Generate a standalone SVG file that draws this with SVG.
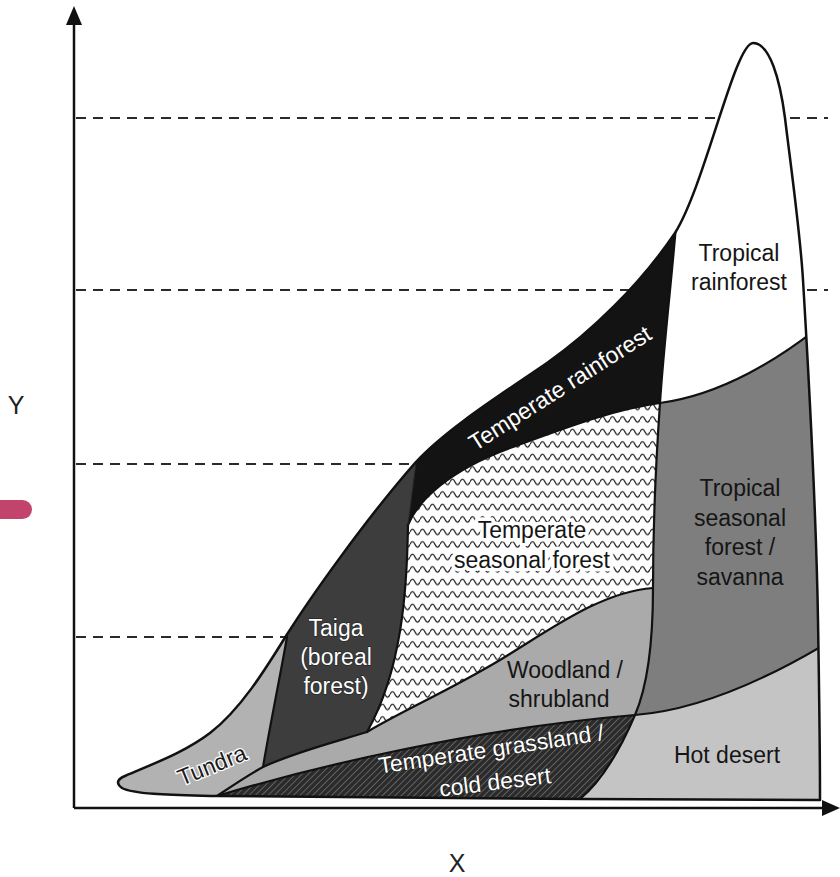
<svg xmlns="http://www.w3.org/2000/svg" width="840" height="877" viewBox="0 0 840 877">
<style>
.lbl{font-family:"Liberation Sans",Arial,sans-serif;font-size:23px;text-anchor:middle}
.dk{fill:#151515}
.wh{fill:#ffffff;stroke:#1a1a1a;stroke-width:1;paint-order:stroke}
.halo{fill:#151515;stroke:#ffffff;stroke-width:7;stroke-linejoin:round;paint-order:stroke}
.bd{fill:none;stroke:#111;stroke-width:2.2;stroke-linejoin:round;stroke-linecap:round}
.dash{fill:none;stroke:#2a2a2a;stroke-width:2;stroke-dasharray:10 7}
.ax{fill:none;stroke:#111;stroke-width:2.5}
</style>
<defs>
<clipPath id="clipO">
<path id="outerShape" d="M217,796 C180,795 135,795 122,788 C115,783 118,779 125,776 C155,763 185,752 210,733 C240,710 265,670 286,636 C310,598 365,520 415,463 C445,430 500,395 547,363 C590,333 640,285 675,233 C705,185 735,43 753,43 C770,43 780,80 785,118 C790,160 800,230 803,280 C806,330 816,500 818,620 C819,680 820,740 820,800 L580,799 Z"/>
</clipPath>
<pattern id="hatch" width="4.5" height="4.5" patternUnits="userSpaceOnUse" patternTransform="rotate(45)">
<rect width="4.5" height="4.5" fill="#2b2b2b"/>
<line x1="0" y1="0" x2="0" y2="4.5" stroke="#8a8a8a" stroke-width="1.1"/>
</pattern>
<pattern id="wave" width="10" height="12.5" patternUnits="userSpaceOnUse">
<rect width="10" height="12.5" fill="#ffffff"/>
<path d="M0,7 Q2.5,1.5 5,7 T10,7" fill="none" stroke="#1e1e1e" stroke-width="1.3"/>
</pattern>
</defs>

<rect width="840" height="877" fill="#ffffff"/>

<g id="gridlines">
<line class="dash" x1="76" y1="118" x2="828" y2="118"/>
<line class="dash" x1="76" y1="290" x2="828" y2="290"/>
<line class="dash" x1="76" y1="464" x2="420" y2="464"/>
<line class="dash" x1="76" y1="637" x2="292" y2="637"/>
</g>

<g id="axes">
<line class="ax" x1="74" y1="808" x2="74" y2="22"/>
<polygon points="74,6 66,25 82,25" fill="#111"/>
<line class="ax" x1="74" y1="808" x2="824" y2="808"/>
<polygon points="840,808 822,800 822,816" fill="#111"/>
<text class="lbl" x="16" y="414" style="font-size:25px" fill="#222">Y</text>
<text class="lbl" x="457" y="872" style="font-size:25px" fill="#222">X</text>
</g>

<rect id="marker" x="-12" y="500" width="44" height="19" rx="9.5" fill="#c2436c"/>

<g id="tropical-rainforest">
<path d="M217,796 C180,795 135,795 122,788 C115,783 118,779 125,776 C155,763 185,752 210,733 C240,710 265,670 286,636 C310,598 365,520 415,463 C445,430 500,395 547,363 C590,333 640,285 675,233 C705,185 735,43 753,43 C770,43 780,80 785,118 C790,160 800,230 803,280 C806,330 816,500 818,620 C819,680 820,740 820,800 L580,799 Z" fill="#ffffff"/>
<text class="lbl dk" x="739" y="261">Tropical</text>
<text class="lbl dk" x="739" y="290">rainforest</text>
</g>

<g id="temperate-rainforest">
<path clip-path="url(#clipO)" fill="#131313" d="M678,200 C674,260 664,340 660,403 C656,460 653,530 653,588 C653,640 648,685 635,715 C620,750 603,780 580,799 L570,830 L0,830 L0,0 L690,0 Z"/>
</g>

<g id="tropical-seasonal-forest-savanna">
<path clip-path="url(#clipO)" fill="#7e7e7e" d="M660,403 C720,395 780,360 830,318 L860,318 L860,900 L570,900 L580,799 C603,780 620,750 635,715 C648,685 653,640 653,588 C653,530 656,460 660,403 Z"/>
<text class="lbl dk" x="740" y="496">Tropical</text>
<text class="lbl dk" x="740" y="526">seasonal</text>
<text class="lbl dk" x="740" y="555">forest /</text>
<text class="lbl dk" x="740" y="585">savanna</text>
</g>

<g id="hot-desert">
<path clip-path="url(#clipO)" fill="#c4c4c4" d="M635,715 C700,710 775,676 845,632 L860,632 L860,900 L570,900 L580,799 C603,780 620,750 635,715 Z"/>
<text class="lbl dk" x="727" y="763">Hot desert</text>
</g>

<g id="temperate-seasonal-forest">
<path clip-path="url(#clipO)" fill="url(#wave)" d="M408,525 C418,500 450,470 510,448 C560,430 610,410 660,403 C656,460 653,530 653,588 C600,592 550,630 500,660 C450,690 400,712 367,732 C402,670 407,590 408,525 Z"/>
<text class="lbl halo" x="532" y="538">Temperate</text>
<text class="lbl halo" x="532" y="568">seasonal forest</text>
</g>

<g id="taiga">
<path clip-path="url(#clipO)" fill="#3d3d3d" d="M418,420 L416,463 L408,525 C407,590 402,670 367,732 C335,742 295,752 263,767 C270,730 281,672 287,637 L200,637 L200,420 Z"/>
<text class="lbl wh" x="336" y="636">Taiga</text>
<text class="lbl wh" x="336" y="665">(boreal</text>
<text class="lbl wh" x="336" y="694">forest)</text>
</g>

<g id="tundra">
<path clip-path="url(#clipO)" fill="#b2b2b2" d="M287,637 C281,672 270,725 263,767 C248,775 232,786 217,796 L217,850 L0,850 L0,637 Z"/>
<text class="lbl" transform="translate(212,765) rotate(-22)" x="0" y="8" fill="#1c1c1c" stroke="#ffffff" stroke-width="2.5" paint-order="stroke">Tundra</text>
</g>

<g id="woodland-shrubland">
<path clip-path="url(#clipO)" fill="#aaaaaa" d="M217,796 C232,786 248,775 263,767 C295,752 335,742 367,732 C400,712 450,690 500,660 C550,630 600,592 653,588 C653,640 648,685 635,715 C480,728 320,765 217,796 Z"/>
<text class="lbl dk" x="565" y="678">Woodland /</text>
<text class="lbl dk" x="559" y="707">shrubland</text>
</g>

<g id="temperate-grassland-cold-desert">
<path clip-path="url(#clipO)" fill="url(#hatch)" d="M217,796 C320,765 480,728 635,715 C620,750 603,780 580,799 L575,850 L200,850 Z"/>
<text class="lbl wh" transform="translate(491,749) rotate(-8.5)" x="0" y="8">Temperate grassland /</text>
<text class="lbl wh" transform="translate(495,782) rotate(-7)" x="0" y="8">cold desert</text>
</g>

<g id="boundaries">
<g clip-path="url(#clipO)">
<path class="bd" d="M678,200 C674,260 664,340 660,403 C656,460 653,530 653,588 C653,640 648,685 635,715 C620,750 603,780 580,799"/>
<path class="bd" d="M408,525 C418,500 450,470 510,448 C560,430 610,410 660,403"/>
<path class="bd" d="M408,525 C407,590 402,670 367,732"/>
<path class="bd" d="M217,796 C232,786 248,775 263,767 C295,752 335,742 367,732 C400,712 450,690 500,660 C550,630 600,592 653,588"/>
<path class="bd" d="M217,796 C320,765 480,728 635,715 C700,710 775,676 845,632"/>
<path class="bd" d="M287,637 C281,672 270,725 263,767"/>
<path class="bd" d="M660,403 C720,395 780,360 830,318"/>
<path d="M416,463 L408,525" fill="none" stroke="#262626" stroke-width="1"/>
</g>
<use href="#outerShape" fill="none" stroke="#111" stroke-width="2.5" stroke-linejoin="round"/>
</g>

<g id="labels-top">
<text class="lbl wh" transform="translate(560,388) rotate(-32.5)" x="0" y="8">Temperate rainforest</text>
</g>
</svg>
